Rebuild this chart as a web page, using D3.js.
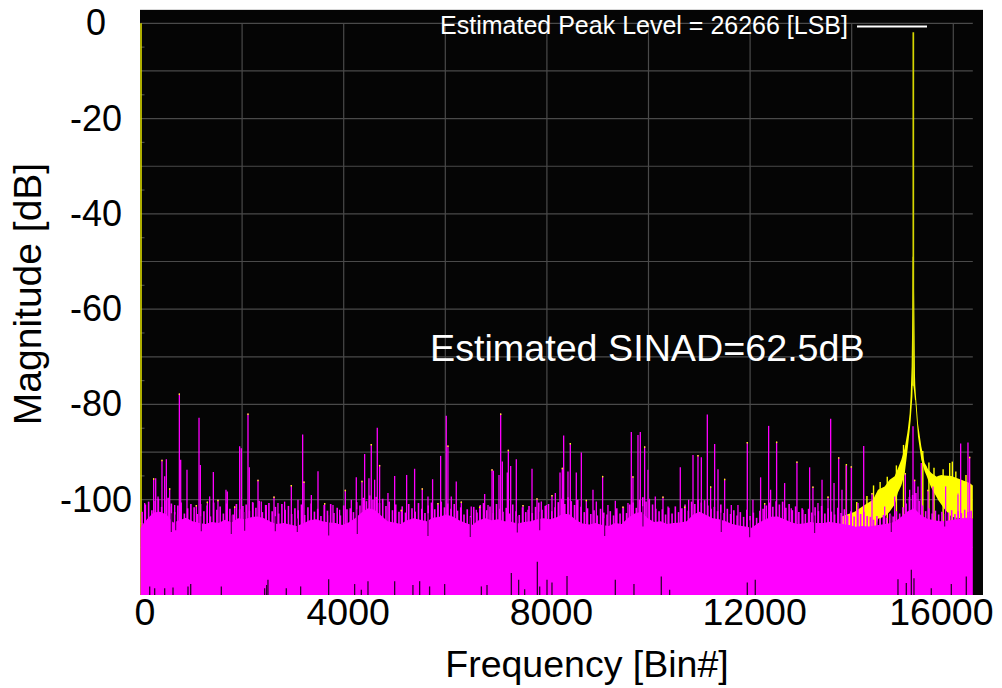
<!DOCTYPE html>
<html><head><meta charset="utf-8">
<script src="https://cdn.jsdelivr.net/npm/d3@7"></script>
<style>
body{margin:0;background:#fff}
svg{display:block}
text{font-family:"Liberation Sans",Arial,Helvetica,sans-serif}
</style>
</head><body>
<svg id="c" width="1002" height="688"></svg>
<script>
// ---------- data ----------
const xTicks = [0, 4000, 8000, 12000, 16000];
const yTicks = [0, -20, -40, -60, -80, -100];
const nBins = 16384;
const floorStep = 128; // solid noise-floor level, sampled every 128 bins
const floorDb = [
 -105.9,-104.1,-102.7,-102.5,-103.1,-104.8,-104.3,-103.8,-104.5,-104.9,
 -105.1,-104.7,-104.9,-104.2,-104.8,-103.9,-104.1,-103.7,-103.5,-103.9,
 -104.6,-105.1,-104.9,-105.2,-105.5,-105.0,-104.3,-104.1,-104.5,-104.8,
 -104.9,-105.3,-104.8,-103.9,-102.7,-101.8,-102.1,-103.3,-104.5,-104.8,
 -105.1,-104.3,-103.9,-104.2,-104.5,-103.8,-103.6,-103.1,-103.5,-104.3,
 -104.9,-105.3,-104.3,-103.9,-104.3,-104.1,-104.5,-104.6,-105.0,-104.7,
 -104.5,-104.1,-103.9,-104.1,-103.7,-102.9,-103.1,-104.3,-105.0,-105.2,
 -104.9,-105.3,-105.5,-104.9,-105.1,-103.8,-102.9,-102.5,-103.9,-104.7,
 -104.5,-105.1,-104.9,-104.8,-104.5,-103.1,-102.5,-103.2,-103.9,-104.1,
 -104.5,-105.1,-105.4,-105.6,-105.9,-104.9,-104.2,-103.6,-103.5,-104.1,
 -104.7,-105.1,-105.0,-104.7,-104.9,-104.9,-104.6,-104.9,-105.1,-105.3,
 -105.7,-105.5,-105.6,-105.4,-105.2,-105.0,-104.6,-103.6,-102.4,-101.8,
 -103.2,-104.0,-104.3,-104.5,-104.4,-104.2,-104.0,-103.8,-104.0
];
// dense small peaks riding on the floor, one every 64 bins starting at bin 32
const rippleStart = 32, rippleStep = 64;
const rippleDb = [
 -102.5,-101.0,-100.4,-102.2,-100.2,-99.8,-101.5,-100.1,-99.6,-100.8,-102.6,-101.2,-100.6,-102.9,-101.8,-100.9,
 -101.6,-103.0,-100.9,-102.4,-101.2,-103.5,-100.6,-102.1,-101.4,-102.9,-100.8,-101.9,-103.1,-100.9,-102.0,-101.3,
 -101.0,-102.3,-100.5,-101.7,-100.2,-102.6,-101.1,-100.7,-102.4,-101.5,-102.9,-100.9,-102.1,-101.3,-103.0,-101.8,
 -102.2,-101.0,-103.2,-101.6,-100.8,-102.5,-101.9,-103.4,-101.1,-102.3,-100.9,-102.8,-101.7,-103.3,-101.2,-102.0,
 -101.8,-102.6,-100.5,-101.2,-99.6,-100.3,-99.1,-100.0,-99.4,-100.7,-99.8,-101.3,-100.4,-102.2,-101.0,-102.5,
 -101.4,-102.7,-100.9,-101.8,-102.5,-100.7,-101.9,-102.8,-101.2,-100.6,-102.0,-101.0,-100.4,-101.6,-100.8,-101.9,
 -100.9,-102.3,-101.6,-103.1,-102.0,-103.4,-101.5,-102.7,-101.1,-100.7,-102.2,-101.4,-102.8,-100.9,-101.9,-102.5,
 -101.7,-102.9,-101.0,-102.4,-103.2,-101.6,-102.6,-101.3,-102.8,-101.5,-100.6,-102.1,-101.3,-100.9,-102.4,-101.6,
 -100.5,-99.8,-100.9,-99.5,-100.3,-101.1,-100.0,-101.5,-102.6,-101.8,-103.0,-102.2,-103.3,-101.9,-102.7,-103.1,
 -102.4,-103.3,-101.8,-102.9,-101.6,-102.8,-101.0,-100.6,-101.7,-100.0,-99.5,-100.4,-99.8,-101.0,-101.9,-102.4,
 -102.0,-103.1,-101.7,-102.9,-101.4,-102.6,-101.8,-101.0,-102.3,-100.4,-100.9,-99.9,-100.6,-100.1,-101.2,-101.9,
 -101.5,-102.4,-101.0,-102.8,-101.9,-103.0,-102.2,-103.3,-102.6,-103.6,-102.1,-103.4,-102.7,-103.8,-102.3,-101.9,
 -101.2,-100.6,-101.5,-100.3,-101.0,-100.4,-101.7,-100.9,-102.2,-101.4,-102.6,-101.8,-103.0,-101.9,-102.7,-101.6,
 -102.4,-101.3,-102.9,-101.8,-102.5,-103.1,-101.7,-102.8,-102.0,-103.3,-102.4,-103.5,-102.1,-103.0,-102.6,-103.4,
 -103.6,-104.2,-103.4,-104.0,-103.2,-103.8,-102.9,-103.5,-102.4,-102.9,-101.6,-100.8,-99.4,-99.0,-98.6,-100.2,
 -101.2,-102.4,-101.8,-102.9,-102.3,-103.1,-102.5,-103.4,-102.7,-102.2,-103.0,-102.4,-102.8,-102.1,-102.6,-102.3
];
// spurs of the noise spectrum (magenta): bin, dB
const spurBins = [
 82,259,299,345,423,476,509,574,607,673,765,791,915,1099,1152,1178,1316,1361,1434,1525,1683,1709,1853,1952,1985,2116,2142,2214,2313,2378,2477,2628,2706,2837,2969,3100,3192,3218,
 3363,3494,3625,3789,3920,4032,4150,4248,4360,4412,4497,4543,4609,4661,4707,4871,5003,5134,5239,5396,5547,5659,5750,5855,5908,6019,6052,6118,6216,6315,6511,6610,
 6677,6775,6841,6920,6946,7057,7090,7123,7221,7241,7287,7398,7530,7628,7707,7805,7890,7989,8100,8166,8258,8304,8330,8415,8461,8579,8678,8776,8907,8973,9097,9202,9347,9498,9596,9662,9694,9793,9839,9924,
 9990,10134,10285,10384,10626,10712,10790,10876,10974,11040,11158,11223,11302,11368,11499,11630,11761,11945,12056,12207,12286,12365,12404,12522,12680,12811,12922,13040,13172,13237,13336,
 13416,13534,13586,13652,13744,13809,13895,13993,14124,14236,14400,14649,14846,15056,15141,15207,15239,15305,15370,15502,15600,15849,16092,16145,16289,16322
];
const spurDb = [
 -100.7,-95.5,-95.5,-99.3,-91.6,-95.1,-91.5,-97.6,-101.4,-101.1,-77.7,-91.6,-93.7,-101.1,-82.8,-92.7,-100.4,-99.3,-94.2,-100.0,-97.9,-98.3,-101.4,-88.8,-89.2,-81.9,-93.2,-100.7,-95.8,-100.4,-101.1,-99.3,-100.7,-100.4,-96.9,-100.0,-86.3,-96.2,
 -99.0,-94.0,-100.7,-101.1,-102.1,-97.9,-100.0,-95.3,-96.0,-90.4,-95.5,-88.3,-95.8,-84.9,-92.7,-98.6,-95.0,-102.1,-94.8,-93.5,-97.6,-99.3,-95.7,-100.7,-90.8,-82.4,-88.6,-99.3,-96.2,-100.4,-101.4,-102.1,
 -101.4,-98.8,-101.1,-93.6,-93.9,-94.8,-81.9,-92.0,-94.3,-89.5,-92.9,-91.5,-101.1,-102.1,-93.5,-99.7,-100.4,-101.1,-99.0,-98.6,-94.3,-93.3,-86.5,-94.1,-88.1,-94.3,-90.1,-100.0,-97.9,-100.4,-95.0,-101.1,-100.2,-101.4,-100.7,-85.8,-95.1,-86.4,-85.8,-88.8,
 -93.7,-99.3,-99.3,-101.4,-93.2,-101.4,-100.0,-90.6,-90.6,-91.1,-82.1,-97.2,-88.3,-93.6,-95.6,-101.1,-101.1,-87.9,-100.0,-95.3,-100.7,-84.5,-97.9,-87.8,-96.5,-101.8,-92.0,-102.1,-93.2,-97.2,-100.7,
 -95.8,-99.3,-83.0,-96.5,-91.1,-97.9,-92.8,-93.0,-100.7,-88.7,-98.6,-101.4,-99.3,-94.4,-97.9,-84.6,-95.8,-97.2,-92.3,-97.9,-97.2,-97.2,-98.6,-88.2,-88.0,-91.0
];
// dark nulls just under the top of the noise fill: bin, dB reached
const dipBins = [607,692,1197,1788,2050,2654,3087,3704,4268,5659,6492,7418,7858,9137,9891,11433,11991,13270,14780,15830];
const dipDb   = [-106.8,-106.4,-106.6,-107.2,-106.5,-106.6,-106.8,-107.5,-107.2,-107.6,-107.8,-106.9,-106.4,-107.6,-105.6,-106.8,-107.9,-107.0,-106.8,-105.6];
// columns where the trace never reaches the bottom of the scale: bin, dB
const nullBins = [181,279,476,640,935,988,1591,2444,2483,2509,2870,3152,3704,4215,4347,4478,5003,5363,5495,5691,5987,6710,6821,7300,7444,7562,7812,7858,8002,8100,8396,9347,9714,10252,10416,11945,12102,14911,15075,15174,15226,15567,15961,16256];
const nullDb  = [-118.2,-118.6,-118.6,-118.4,-118.2,-117.7,-118.2,-118.6,-117.9,-116.8,-118.6,-118.2,-116.7,-117.7,-118.9,-117.1,-117.1,-117.9,-117.1,-118.2,-117.7,-118.2,-117.9,-115.4,-116.8,-118.8,-113.0,-118.2,-116.8,-117.4,-116.0,-116.8,-117.7,-116.1,-118.9,-117.4,-116.8,-116.7,-117.5,-114.7,-116.5,-118.6,-117.7,-116.1];
// full spectrum (yellow) around the fundamental: bin, upper and lower extent in dB
const skirtBins = [13800,14059,14255,14419,14518,14649,14747,14846,14911,14977,15043,15095,15108,15141,15161,15180,15194,15200,15213,15226,15246,15252,15266,15305,15370,15436,15476,15502,15567,15673,15698,15764,15829,15961,16158,16322,16384];
const skirtHiDb = [-103.5,-102.5,-101.1,-100.0,-97.9,-97.2,-95.8,-95.1,-93.4,-91.6,-89.2,-86.0,-85.0,-81.9,-78.0,-72.0,-60.0,-49.0,-49.0,-55.0,-74.0,-76.0,-78.4,-84.0,-88.8,-92.3,-93.0,-93.6,-94.4,-95.2,-95.0,-94.8,-94.9,-95.0,-95.8,-96.5,-97.0];
const skirtLoDb = [-110,-110,-110,-108,-104.0,-103.5,-102.5,-101.0,-98.5,-97.0,-94.6,-90.0,-88.8,-85.5,-83.3,-80.5,-78.4,-76.0,-76.0,-77.0,-79.0,-79.1,-81.0,-86.7,-91.6,-94.0,-95.0,-95.8,-97.5,-99.5,-100.0,-101.0,-102.0,-103.5,-104.0,-104.0,-104.0];
const yellowSpurBins = [13895,14100,14300,14430,14560,14700,14880,15020,15400,15520,15620,15800,15930,15981,16050,16250];
const yellowSpurDb   = [-92.5,-100.5,-99.2,-97.0,-96.3,-95.2,-92.8,-88.5,-89.8,-92.2,-93.3,-93.6,-92.3,-92.0,-94.1,-94.8];
const peakBin = 15213, peakDb = -1.9;
const dcDb = 0;
const peakLevelLabel = "Estimated Peak Level = 26266 [LSB]";
const sinadLabel = "Estimated SINAD=62.5dB";
const xTitle = "Frequency [Bin#]";
const yTitle = "Magnitude [dB]";

// ---------- drawing ----------
const FONT = '"Liberation Sans",Arial,sans-serif';
const svg = d3.select("#c");
const x = d3.scaleLinear().domain([0, nBins]).range([140.5, 972.8]);
const y = d3.scaleLinear().domain([-120, 0]).range([595, 23.3]);
const yBottom = y(-120);
const vline = (g, data, color, w) => g.append("g").attr("stroke", color).attr("stroke-width", w)
  .selectAll("line").data(data).join("line")
  .attr("x1", d => x(d[0])).attr("x2", d => x(d[0]))
  .attr("y1", d => d.length > 2 ? y(d[2]) : yBottom).attr("y2", d => y(d[1]));

svg.append("rect").attr("x",140).attr("y",10).attr("width",843).attr("height",585).attr("fill","#050505");
svg.append("line").attr("x1",140).attr("x2",983).attr("y1",9.5).attr("y2",9.5).attr("stroke","#d8d8d8");

const grid = svg.append("g").attr("stroke","#4a4a4a").attr("stroke-width",1.2);
grid.selectAll("line.v").data(d3.range(2000, nBins, 2000)).join("line")
  .attr("x1",d=>x(d)).attr("x2",d=>x(d)).attr("y1",y(0)).attr("y2",yBottom);
grid.selectAll("line.h").data(d3.range(0, -120, -10)).join("line")
  .attr("x1",x(0)).attr("x2",x(nBins)).attr("y1",d=>y(d)).attr("y2",d=>y(d));
grid.selectAll("line.m").data(d3.range(-5, -120, -10)).join("line")
  .attr("x1",x(0)).attr("x2",x(0)+4).attr("y1",d=>y(d)).attr("y2",d=>y(d));

// yellow: full spectrum
const skirt = skirtBins.map((b,i)=>[b, skirtHiDb[i], skirtLoDb[i]]);
svg.append("path").datum(skirt)
  .attr("d", d3.area().x(d=>x(d[0])).y0(d=>y(d[2])).y1(d=>y(d[1])))
  .attr("fill","#ffff00");
vline(svg, yellowSpurBins.map((b,i)=>[b,yellowSpurDb[i]]), "#ffff00", 1.4);
svg.append("line").attr("x1",x(peakBin)).attr("x2",x(peakBin)).attr("y1",y(-76)).attr("y2",y(peakDb))
  .attr("stroke","#d6d600").attr("stroke-width",1.7);
svg.append("line").attr("x1",x(0)+0.5).attr("x2",x(0)+0.5).attr("y1",yBottom).attr("y2",y(dcDb))
  .attr("stroke","#e6e600").attr("stroke-width",1.5);

// magenta: noise spectrum
const floorPts = floorDb.map((v,i)=>[i*floorStep, v]);
svg.append("path").datum(floorPts)
  .attr("d", d3.area().x(d=>x(d[0])).y0(yBottom).y1(d=>y(d[1])))
  .attr("fill","#ff00ff");
const floorAt = d3.scaleLinear().domain(floorPts.map(d=>d[0])).range(floorPts.map(d=>d[1]));
const ripple = rippleDb.map((v,i)=>[rippleStart + i*rippleStep, v]);
vline(svg, ripple, "#ff00ff", 1.6);
const spurs = spurBins.map((b,i)=>[b,spurDb[i]]);
vline(svg, spurs, "#ff00ff", 1.3);
svg.append("g").attr("stroke","#ffff00").attr("stroke-width",1.3)
  .selectAll("line").data(spurs.filter((d,i)=>i%3===1)).join("line")
  .attr("x1",d=>x(d[0])).attr("x2",d=>x(d[0])).attr("y1",d=>y(d[1])).attr("y2",d=>y(d[1])+1.5);
vline(svg, dipBins.map((b,i)=>[b, dipDb[i], floorAt(b) + 1.5]), "#5a005a", 1.2);
vline(svg, nullBins.map((b,i)=>[b,nullDb[i]]), "#300030", 1.3);

// axes
const yAxis = svg.append("g").attr("transform","translate(96,0)")
  .call(d3.axisLeft(y).tickValues(yTicks).tickSize(0).tickPadding(0).tickFormat(d=>String(d)));
yAxis.select(".domain").remove();
yAxis.selectAll("text").attr("x",0).attr("text-anchor","middle").attr("font-size",36)
  .attr("fill","#000").style("font-family",FONT);

const xAxis = svg.append("g").attr("transform",`translate(4,${yBottom})`)
  .call(d3.axisBottom(x).tickValues(xTicks).tickSize(0).tickPadding(3).tickFormat(d=>String(d)));
xAxis.select(".domain").remove();
xAxis.selectAll("text").attr("font-size",37.5).attr("fill","#000").style("font-family",FONT);
xAxis.selectAll(".tick").each(function(d){
  const t = d3.select(this).select("text");
  const w = this.querySelector("text").getComputedTextLength();
  const right = x(d) + 4 + w/2;
  if (right > 993) t.attr("x", 993 - right);
});

svg.append("text").attr("x",587).attr("y",677).attr("text-anchor","middle")
  .attr("font-size",37.5).attr("fill","#000").text(xTitle);
svg.append("text").attr("transform","translate(41,294) rotate(-90)").attr("text-anchor","middle")
  .attr("font-size",39).attr("fill","#000").text(yTitle);

// legend + annotation
svg.append("text").attr("x",848).attr("y",34).attr("text-anchor","end")
  .attr("font-size",25).attr("fill","#fff").text(peakLevelLabel);
svg.append("line").attr("x1",857).attr("x2",927).attr("y1",26.5).attr("y2",26.5)
  .attr("stroke","#fff").attr("stroke-width",2);
svg.append("text").attr("x",430).attr("y",361)
  .attr("font-size",37.7).attr("fill","#fff").text(sinadLabel);
</script>
</body></html>
